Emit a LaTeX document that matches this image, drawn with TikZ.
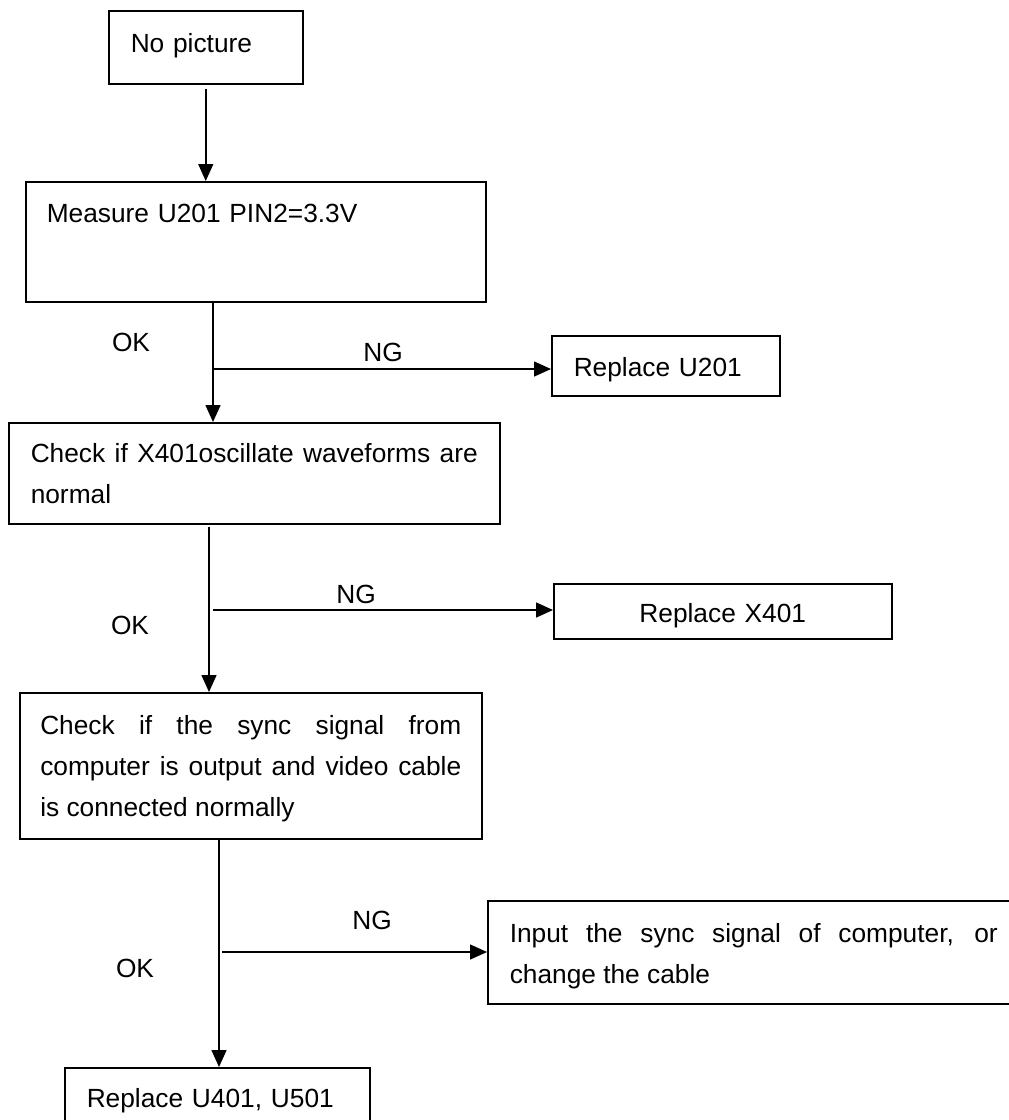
\documentclass[tikz,border=0pt]{standalone}
\usepackage{fontspec}
\usetikzlibrary{arrows.meta}
\newfontfamily\arialfam{Liberation Sans}
\newcommand\boxfont{\fontsize{26.3}{41}\selectfont\arialfam}
\tikzset{
  box/.style={draw, line width=1.5pt, anchor=north west, inner xsep=22pt, inner ysep=0pt, font=\boxfont},
  conn/.style={line width=1.5pt},
  arr/.style={line width=1.5pt, -{Triangle[length=17pt,width=15pt]}},
  lbl/.style={font=\boxfont, inner sep=0pt}
}
\begin{document}
\begin{tikzpicture}[x=1pt,y=-1pt]
\clip (0,0) rectangle (1009,1120);
\fill[white] (0,0) rectangle (1009,1120);
% boxes
\node[box, text width=150, align=left, text height=42, text depth=31] (b1) at (108,10) {No picture};
\node[box, inner xsep=21pt, text width=418, align=left, text height=41, text depth=79] (b2) at (25,181) {Measure U201 PIN2=3.3V};
\node[box, text width=184, align=left, text height=41, text depth=19] (r1) at (551,335) {Replace U201};
\node[box, text width=447, align=justify, text height=40, text depth=61] (b3) at (8,422) {Check if X401oscillate waveforms are\linebreak normal};
\node[box, text width=294, align=center, text height=39, text depth=16] (r2) at (553,583) {Replace X401};
\node[box, inner xsep=20.5pt, text width=421, align=justify, text height=42, text depth=104] (b4) at (19,692) {Check if the sync signal from\linebreak computer is output and video cable\linebreak is connected normally};
\node[box, text width=488, align=justify, text height=42, text depth=61] (r3) at (487,900) {Input the sync signal of computer, or\linebreak change the cable};
\node[box, text width=261, align=left, text height=40, text depth=22] (r4) at (64,1067) {Replace U401, U501};
% junctions
\coordinate (j1) at (213,369);
\coordinate (j2) at (209,610);
\coordinate (j3) at (219,952);
% connectors
\draw[arr, shorten <=4pt] (b1.south) -- (b1.south |- b2.north);
\draw[conn] (b2.south -| j1) -- (j1);
\draw[arr] (j1) -- (b3.north -| j1);
\draw[arr] (j1) -- (j1 -| r1.west);
\draw[arr, shorten <=2pt] (b3.south -| j2) -- (b4.north -| j2);
\draw[arr, shorten <=4pt] (j2) -- (j2 -| r2.west);
\draw[arr] (b4.south -| j3) -- (r4.north -| j3);
\draw[arr, shorten <=3pt] (j3) -- (j3 -| r3.west);
% labels
\node[lbl] (ok1) at (131,342) {OK};
\node[lbl] (ng1) at (383,352) {NG};
\node[lbl] (ok2) at (130,625) {OK};
\node[lbl] (ng2) at (356,594) {NG};
\node[lbl] (ok3) at (135,968) {OK};
\node[lbl] (ng3) at (372,920) {NG};
\end{tikzpicture}
\end{document}
